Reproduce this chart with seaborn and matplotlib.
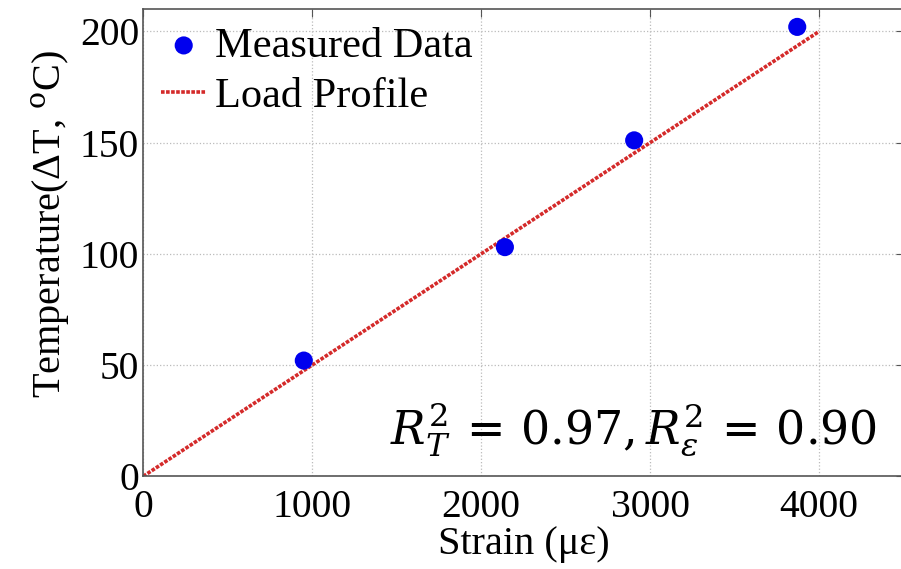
import matplotlib
matplotlib.use("Agg")
import matplotlib.pyplot as plt
import seaborn as sns
import pandas as pd

# measured points
strain_measured = [950, 2140, 2905, 3870]
temp_measured = [52, 103, 151, 202]

# load profile line
strain_profile = [0, 4000]
temp_profile = [0, 200]

x_ticks = [0, 1000, 2000, 3000, 4000]
y_ticks = [0, 50, 100, 150, 200]

sns.set_style("white")
plt.rcParams['font.family'] = ['Liberation Serif', 'DejaVu Serif']
plt.rcParams['mathtext.fontset'] = 'dejavuserif'
plt.rcParams['text.color'] = 'black'
plt.rcParams['axes.labelcolor'] = 'black'
plt.rcParams['xtick.color'] = 'black'
plt.rcParams['ytick.color'] = 'black'

measured = pd.DataFrame({'strain': strain_measured, 'temp': temp_measured})
profile = pd.DataFrame({'strain': strain_profile, 'temp': temp_profile})

fig, ax = plt.subplots(figsize=(9.01, 5.69), dpi=100)
fig.subplots_adjust(left=0.159, right=1.003, top=0.984, bottom=0.163)

sns.lineplot(data=profile, x='strain', y='temp', ax=ax, color='#d42a2a',
             linestyle=(0, (1, 0.4)), linewidth=2.6, label='Load Profile', zorder=2)
sns.scatterplot(data=measured, x='strain', y='temp', ax=ax, color='#0000ee',
                s=170, edgecolor='none', label='Measured Data', zorder=3)

ax.set_xlim(0, 4500)
ax.set_ylim(0, 210)
ax.set_xticks(x_ticks)
ax.set_yticks(y_ticks)
ax.grid(True, linestyle=':', color='#bbbbbb', linewidth=0.9)
ax.tick_params(axis='both', direction='in', length=6, labelsize=28.5, color='#555555',
               labelcolor='black', top=True, right=True)
ax.tick_params(axis='x', pad=9)
ax.tick_params(axis='y', pad=3)
for s in ax.spines.values():
    s.set_color('#555555')
    s.set_linewidth(1.2)

ax.set_xlabel('Strain (\u03bc\u03b5)', fontsize=29, labelpad=0)
ax.set_ylabel('Temperature(\u0394T, $^{\\mathrm{o}}$C)', fontsize=29)
ax.yaxis.set_label_coords(-0.094, 0.54)

handles, labels = ax.get_legend_handles_labels()
order = [labels.index('Measured Data'), labels.index('Load Profile')]
ax.legend([handles[i] for i in order], [labels[i] for i in order], loc='upper left',
          frameon=False, fontsize=30.5, handlelength=1.07, handletextpad=0.2,
          borderaxespad=0.0, labelspacing=0.28, borderpad=0.42)

ax.text(0.965, 0.1, r'$R_T^2\,=\,0.97,R_\varepsilon^2\,=\,0.90$', transform=ax.transAxes,
        ha='right', va='center', fontsize=33)

fig.savefig('out.png', dpi=100)
